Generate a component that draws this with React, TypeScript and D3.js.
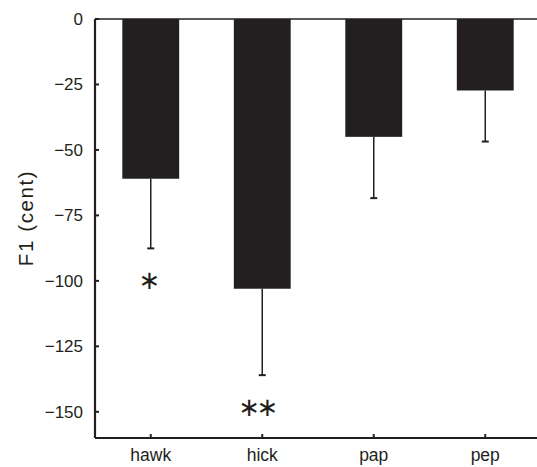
import React from "react";
import * as d3 from "d3";

const categories = ["hawk", "hick", "pap", "pep"];
const means = [-61, -103, -45, -27.3];
const errors = [26.6, 33, 23.4, 19.5];
const stars = ["\u2217", "\u2217\u2217", "", ""];
const yTicks = [0, -25, -50, -75, -100, -125, -150];

export default function App() {
  const width = 537;
  const height = 467;
  const left = 95;
  const right = 541;
  const top = 19;
  const bottom = 438;
  const ink = "#231f20";
  const font = "'Liberation Sans', Arial, Helvetica, sans-serif";

  const x = d3
    .scaleBand()
    .domain(categories)
    .range([left, right])
    .paddingInner(0.49)
    .paddingOuter(0.245);
  const y = d3.scaleLinear().domain([-160, 0]).range([bottom, top]);

  const fmt = (v: number) => (v < 0 ? "\u2212" + Math.abs(v) : String(v));

  return (
    <svg
      width={width}
      height={height}
      style={{ position: "absolute", left: 0, top: 0, background: "#fff" }}
    >
      {/* bars */}
      {categories.map((c, i) => (
        <rect
          key={c}
          x={x(c)}
          y={y(0)}
          width={x.bandwidth()}
          height={y(means[i]) - y(0)}
          fill={ink}
        />
      ))}
      {/* error bars, downward only */}
      <g stroke={ink}>
        {categories.map((c, i) => {
          const cx = x(c)! + x.bandwidth() / 2;
          const y0 = y(means[i]);
          const y1 = y(means[i] - errors[i]);
          return (
            <g key={c}>
              <line x1={cx} x2={cx} y1={y0} y2={y1} strokeWidth={1.5} />
              <line x1={cx - 3.5} x2={cx + 3.5} y1={y1} y2={y1} strokeWidth={2} />
            </g>
          );
        })}
      </g>
      {/* significance stars */}
      {categories.map((c, i) => (
        <text
          key={c}
          x={x(c)! + x.bandwidth() / 2 - (stars[i].length > 1 ? 5.75 : 3.2)}
          y={y(means[i] - errors[i]) + 41}
          textAnchor="middle"
          fontFamily="'DejaVu Sans', sans-serif"
          fontSize={26}
          letterSpacing={-3.5}
          fill={ink}
        >
          {stars[i]}
        </text>
      ))}
      {/* frame */}
      <g stroke={ink} fill="none">
        <line x1={left} x2={right} y1={top} y2={top} strokeWidth={1.5} />
        <line x1={left} x2={right} y1={bottom} y2={bottom} strokeWidth={2.2} />
        <line x1={left} x2={left} y1={top} y2={bottom} strokeWidth={2.2} />
        <line x1={right} x2={right} y1={top} y2={bottom} strokeWidth={1.5} />
      </g>
      {/* y ticks */}
      {yTicks.map((t) => (
        <g key={t} transform={`translate(0,${y(t)})`}>
          <line x1={left} x2={left + 4} stroke={ink} strokeWidth={2} />
          <text
            x={83}
            dy="0.35em"
            textAnchor="end"
            fontFamily={font}
            fontSize={17}
            fill={ink}
          >
            {fmt(t)}
          </text>
        </g>
      ))}
      {/* x ticks */}
      {categories.map((c) => {
        const cx = x(c)! + x.bandwidth() / 2;
        return (
          <g key={c}>
            <line x1={cx} x2={cx} y1={bottom} y2={bottom - 4} stroke={ink} strokeWidth={2} />
            <text
              x={cx}
              y={461}
              textAnchor="middle"
              fontFamily={font}
              fontSize={17.5}
              fill={ink}
            >
              {c}
            </text>
          </g>
        );
      })}
      {/* y label */}
      <text
        transform="translate(32.5,218) rotate(-90)"
        textAnchor="middle"
        fontFamily={font}
        fontSize={20.5}
        letterSpacing={1.6}
        fill={ink}
      >
        F1 (cent)
      </text>
    </svg>
  );
}
